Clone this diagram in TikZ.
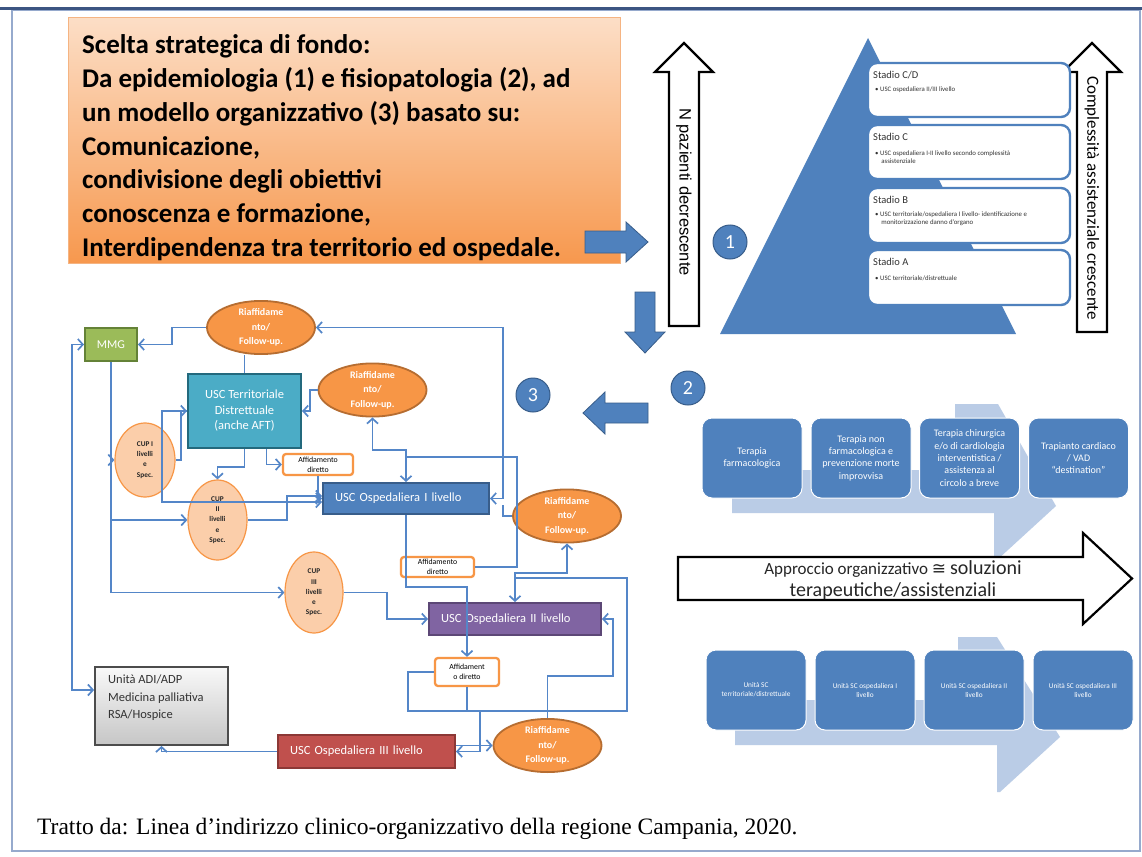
\documentclass[tikz,border=0pt]{standalone}
\usepackage{fontspec}
\setmainfont{Carlito}
\newfontfamily\arialf{Liberation Sans}
\newfontfamily\timesf{Liberation Serif}
\newfontfamily\djv{DejaVu Sans}
\usetikzlibrary{arrows.meta,shapes.geometric}
\pgfdeclarelayer{bg}
\pgfsetlayers{bg,main}
\definecolor{uBlue}{RGB}{79,129,189}
\definecolor{uBlueDk}{RGB}{56,93,138}
\definecolor{cBlue}{RGB}{84,134,200}
\definecolor{chevC}{RGB}{186,204,230}
\definecolor{oraC}{RGB}{247,150,70}
\definecolor{oraDk}{RGB}{182,109,49}
\definecolor{peachC}{RGB}{251,206,170}
\definecolor{tealC}{RGB}{75,172,198}
\definecolor{tealDk}{RGB}{35,105,125}
\definecolor{grnC}{RGB}{155,187,89}
\definecolor{grnDk}{RGB}{100,130,55}
\definecolor{purC}{RGB}{128,100,162}
\definecolor{purDk}{RGB}{92,71,118}
\definecolor{redC}{RGB}{192,80,77}
\definecolor{redDk}{RGB}{140,56,54}
\definecolor{frameC}{RGB}{150,170,205}
\definecolor{frameDk}{RGB}{60,85,130}
\definecolor{titTop}{RGB}{252,222,198}
\definecolor{titBot}{RGB}{247,152,78}
\begin{document}
\begin{tikzpicture}[x=1pt,y=-1pt,
  >={Straight Barb[length=5pt,width=11pt]},
  con/.style={draw=cBlue,line width=1.7pt},
  blockarrow/.style={fill=uBlue,draw=uBlueDk,line width=0.8pt},
  hollow/.style={fill=white,draw=black,line width=2.2pt,line join=miter},
  numc/.style={circle,fill=uBlue,draw=uBlueDk,line width=1pt,minimum size=34pt,inner sep=0pt,text=white,font=\fontsize{20}{20}\selectfont},
  stadbox/.style={draw=uBlue,fill=white,line width=2.4pt,rounded corners=9pt,minimum width=202pt,inner sep=0pt},
  stadT/.style={anchor=west,inner sep=0pt,font=\fontsize{10.5}{12}\selectfont,text=black!80},
  stadB/.style={anchor=west,inner sep=0pt,align=left,font=\fontsize{6.8}{8.2}\selectfont,text=black!80},
  topbox/.style={fill=uBlue,draw=white,line width=1pt,rounded corners=10pt,minimum width=100pt,minimum height=80pt,inner sep=1pt,align=center,text=white,font=\fontsize{10}{12.4}\selectfont},
  botbox/.style={topbox,font=\fontsize{7.3}{9}\selectfont},
  riaff/.style={ellipse,fill=oraC,draw=oraDk,line width=1.8pt,minimum width=108pt,minimum height=53pt,inner sep=0pt,align=center,text=white,font=\bfseries\fontsize{10}{14.5}\selectfont},
  cup/.style={ellipse,fill=peachC,draw=oraC,line width=1.2pt,inner sep=0pt,align=center,text=black!85,font=\bfseries\fontsize{7.3}{10.3}\selectfont},
  affid/.style={rectangle,rounded corners=3pt,fill=white,draw=oraC,line width=2.3pt,inner sep=0pt,align=center,font=\fontsize{7.8}{10}\selectfont},
  uscbox/.style={rectangle,line width=2pt,inner sep=0pt,text=white,font=\fontsize{12.5}{15.5}\selectfont},
  tline/.style={anchor=base west,inner sep=0pt,font=\bfseries\fontsize{27}{33}\selectfont}
]
\useasboundingbox (0,0) rectangle (1142,856);
\fill[white] (0,0) rectangle (1142,856);
% frame
\draw[frameC,line width=1.2pt] (12,10) rectangle (1140,851);
\draw[frameDk,line width=3pt] (0,9) -- (1142,9);

% title box
\shade[top color=titTop,bottom color=titBot,draw={rgb,255:red,245;green,180;blue,130},line width=1pt] (68,18) rectangle (620,263);
\node[tline] (t1) at (82,54) {Scelta strategica di fondo:};
\node[tline] (t2) at (82,87.7) {Da epidemiologia (1) e fisiopatologia (2), ad};
\node[tline] (t3) at (82,121.3) {un modello organizzativo (3) basato su:};
\node[tline] (t4) at (82,155) {Comunicazione,};
\node[tline] (t5) at (82,188.7) {condivisione degli obiettivi};
\node[tline] (t6) at (82,222.3) {conoscenza e formazione,};
\node[tline] (t7) at (82,256) {Interdipendenza tra territorio ed ospedale.};

% block arrows
\draw[blockarrow] (585,231) -- (626,231) -- (626,222) -- (648,242) -- (626,262) -- (626,253) -- (585,253) -- cycle;
\draw[blockarrow] (635,292) -- (655,292) -- (655,332) -- (665,332) -- (645,353) -- (625,332) -- (635,332) -- cycle;
\draw[blockarrow] (583,413) -- (605,392) -- (605,403) -- (648,403) -- (648,423) -- (605,423) -- (605,434) -- cycle;

% hollow up arrows
\draw[hollow] (669,326) -- (699,326) -- (699,72) -- (713,72) -- (684,43) -- (655,72) -- (669,72) -- cycle;
\node[rotate=-90,inner sep=0pt,font=\arialf\fontsize{16.5}{16.5}\selectfont] (npaz) at (684,192) {N pazienti decrescente};
\draw[hollow] (1077,332) -- (1107,332) -- (1107,72) -- (1121,72) -- (1092,43) -- (1063,72) -- (1077,72) -- cycle;
\node[rotate=-90,inner sep=0pt,font=\fontsize{17}{17}\selectfont] (compl) at (1092,198) {Complessità assistenziale crescente};

% pyramid
\fill[uBlue] (868,38) -- (1016,334) -- (720,334) -- cycle;
\node[stadbox,minimum height=54pt] (SCD) at (969,90) {};
\node[stadbox,minimum height=54pt] (SC) at (969,152) {};
\node[stadbox,minimum height=55pt] (SB) at (969,215.5) {};
\node[stadbox,minimum height=55pt] (SA) at (969,277.5) {};
\node[stadT] (SCDt) at (873,75) {Stadio C/D};
\node[stadB] (SCDb) at (875,90) {\textbullet\ USC ospedaliera II/III livello};
\node[stadT] (SCt) at (873,137) {Stadio C};
\node[stadB] (SCb) at (875,157) {\textbullet\ USC ospedaliera I-II livello secondo complessità\\\hspace*{0.9em}assistenziale};
\node[stadT] (SBt) at (873,200) {Stadio B};
\node[stadB] (SBb) at (875,219) {\textbullet\ USC territoriale/ospedaliera I livello- identificazione e\\\hspace*{0.9em}monitorizzazione danno d’organo};
\node[stadT] (SAt) at (873,262) {Stadio A};
\node[stadB] (SAb) at (875,278) {\textbullet\ USC territoriale/distrettuale};

% number circles
\node[numc] (c1) at (730,242) {1};
\node[numc] (c2) at (688,388) {2};
\node[numc] (c3) at (533,395) {3};

% chevrons
\fill[chevC] (955,404) -- (998,404) -- (1056,506) -- (997,560) -- (994,560) -- (994,513) -- (732,513) -- (732,470) -- (955,470) -- cycle;
\fill[chevC] (958,637) -- (997,637) -- (1060,737) -- (1000,792) -- (997,792) -- (997,745) -- (735,745) -- (735,700) -- (958,700) -- cycle;

% top row boxes
\node[topbox] (T1) at (752,458) {Terapia\\farmacologica};
\node[topbox] (T2) at (861,458) {Terapia non\\farmacologica e\\prevenzione morte\\improvvisa};
\node[topbox] (T3) at (969.5,458) {Terapia chirurgica\\e/o di cardiologia\\interventistica /\\assistenza al\\circolo a breve};
\node[topbox] (T4) at (1078.5,458) {Trapianto cardiaco\\/ VAD\\“destination”};

% bottom row boxes
\node[botbox] (U1) at (756,690) {Unità SC\\territoriale/distrettuale};
\node[botbox] (U2) at (865,690) {Unità SC ospedaliera I\\livello};
\node[botbox] (U3) at (974,690) {Unità SC ospedaliera II\\livello};
\node[botbox] (U4) at (1083,690) {Unità SC ospedaliera III\\livello};

% big white arrow
\draw[hollow] (678,557) -- (1083,557) -- (1083,533) -- (1132,578.5) -- (1083,624) -- (1083,600) -- (678,600) -- cycle;
\node[inner sep=0pt,text=black!85] (appr1) at (893,569) {\fontsize{17}{20}\selectfont Approccio organizzativo {\djv ≅} \fontsize{20}{24}\selectfont soluzioni};
\node[inner sep=0pt,text=black!85,font=\fontsize{20}{24}\selectfont] (appr2) at (893,591) {terapeutiche/assistenziali};

% flowchart nodes
\node[uscbox,fill=grnC,draw=grnDk,minimum width=52pt,minimum height=33pt,font=\fontsize{12}{12}\selectfont] (MMG) at (111,344.5) {MMG};
\node[riaff] (R1) at (261,327.5) {Riaffidame\\nto/\\Follow-up.};
\node[uscbox,fill=tealC,draw=tealDk,minimum width=113pt,minimum height=74pt,align=center] (Terr) at (244.5,411) {USC Territoriale\\Distrettuale\\(anche AFT)};
\node[riaff] (R2) at (372.5,390) {Riaffidame\\nto/\\Follow-up.};
\node[cup,minimum width=60pt,minimum height=74pt] (CUP1) at (145,460) {CUP I\\livelli\\e\\Spec.};
\node[cup,minimum width=59pt,minimum height=80pt] (CUP2) at (217.5,520) {CUP\\II\\livelli\\e\\Spec.};
\node[cup,minimum width=58pt,minimum height=81pt] (CUP3) at (314,592.5) {CUP\\III\\livelli\\e\\Spec.};
\node[affid,minimum width=70pt,minimum height=21pt] (A1) at (318,464.5) {Affidamento\\diretto};
\node[uscbox,fill=uBlue,draw=uBlueDk,minimum height=31pt,text width=142pt,inner xsep=12pt,align=left] (OspI) at (406,498.5) {USC Ospedaliera I livello};
\node[riaff] (R3) at (567,516) {Riaffidame\\nto/\\Follow-up.};
\node[affid,minimum width=73pt,minimum height=20pt] (A2) at (437.5,567) {Affidamento\\diretto};
\node[uscbox,fill=purC,draw=purDk,minimum height=32pt,text width=148pt,inner xsep=12pt,align=left] (OspII) at (515,619) {USC Ospedaliera II livello};
\node[affid,minimum width=64pt,minimum height=28pt] (A3) at (467,672) {Affidament\\o diretto};
\node[riaff] (R4) at (547.5,745.5) {Riaffidame\\nto/\\Follow-up.};
\node[uscbox,fill=redC,draw=redDk,minimum height=33pt,text width=153pt,inner xsep=12pt,align=left] (OspIII) at (366.5,751.5) {USC Ospedaliera III livello};
\node[shade,top color=gray!5,bottom color=gray!45,draw=gray!60!black,line width=1.8pt,minimum width=133pt,minimum height=78pt,inner sep=0pt] (Unita) at (161.5,706) {};
\node[anchor=north west,align=left,inner sep=0pt,font=\fontsize{12.5}{17.5}\selectfont,text=black!80] (UnitaT) at (108,675) {Unità ADI/ADP\\Medicina palliativa\\RSA/Hospice};

% connectors
\begin{pgfonlayer}{bg}
\draw[con,<->] (Terr.east) -| (A2.north);
\end{pgfonlayer}
\draw[con,<->] (MMG.west) -- (72,344.5) -- (72,690) -- (Unita.west |- 0,690);
\draw[con,->] (MMG.south) |- (CUP1.west);
\draw[con,->] (MMG.south) |- (CUP2.west);
\draw[con,->] (MMG.south) |- (CUP3.west);
\draw[con,->] (R1.west) -| (172,344.5) -- (MMG.east);
\draw[con] (Terr.north) -- (Terr.north |- R1.south);
\draw[con,<->] (R1.east) -- (503,327.5) -- (503,498.5) -- (OspI.east);
\draw[con] (R3.west) -| (503,505);
\draw[con,->] (R2.west) -| (310,411) -- (Terr.east);
\draw[con,<->] (R2.south) |- (OspI.north |- 0,450) -- (OspI.north);
\draw[con] (A2.east) -| (517,457) -- (OspI.north |- 0,457);
\draw[con,->] (Terr.south) |- (CUP2.north |- 0,467) -- (CUP2.north);
\draw[con,->] (Terr.-60) |- (A1.west);
\draw[con,->] (CUP1.east) -- (181,460) -- (181,411) -- (Terr.west);
\draw[con,->] (Terr.west) -- (162,411) -- (162,502) -- (OspI.west |- 0,502);
\draw[con,->] (CUP2.east) -- (287,520) -- (287,496) -- (OspI.west |- 0,496);
\draw[con,->] (A1.south) |- (OspI.west);
\draw[con,->] (CUP3.east) -| (387,619) -- (OspII.west);
\draw[con,->] (OspI.south) |- (A3.north |- 0,587) -- (A3.north);
\draw[con,<->] (R3.south) |- (OspII.north |- 0,573) -- (OspII.north);
\draw[con] (A3.west) -| (408,711) -- (627,711) |- (OspII.north |- 0,578);
\draw[con,->] (R4.north) |- (613,676) |- (OspII.east);
\draw[con,->] (A3.south) |- (480,711) |- (OspIII.east);
\draw[con,->] (OspIII.east |- R4.west) -- (R4.west);
\draw[con,->] (OspIII.west) -| (Unita.south);

% caption
\node[anchor=base west,inner sep=0pt,font=\timesf\fontsize{23.5}{23.5}\selectfont] (cap) at (37,834) {Tratto da: Linea d’indirizzo clinico-organizzativo della regione Campania, 2020.};
\end{tikzpicture}
\end{document}
